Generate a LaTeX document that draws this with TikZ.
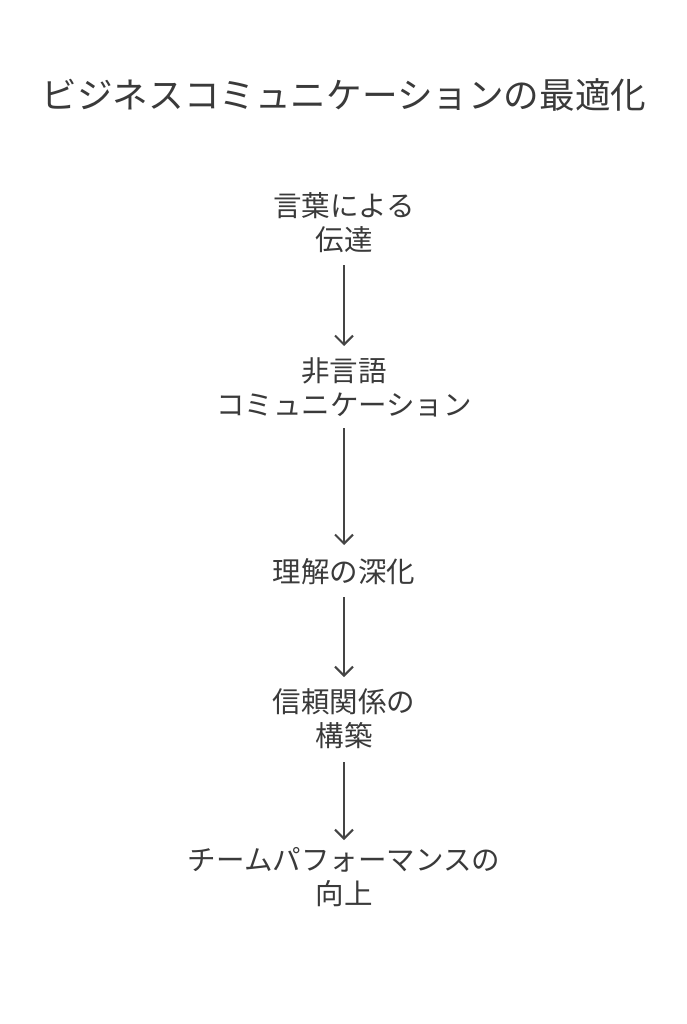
\documentclass[tikz,border=0pt]{standalone}
\usepackage{fontspec}
\setmainfont{Noto Sans CJK JP}
\usetikzlibrary{arrows.meta}
\definecolor{txt}{HTML}{3A3A3A}
\definecolor{arr}{HTML}{444444}
\tikzset{
  lbl/.style={text=txt, font=\fontsize{28.5}{34}\selectfont, align=center, inner sep=0pt},
  ttl/.style={text=txt, font=\fontsize{35.6}{40}\selectfont, inner sep=0pt},
  flow/.style={draw=arr, line width=2pt, -{Straight Barb[length=9pt,width=18pt,line width=2pt]}}
}
\begin{document}
\begin{tikzpicture}[x=1pt,y=-1pt]
\useasboundingbox[fill=white] (0,0) rectangle (687,1024);
\node[ttl] (title) at (344,95) {ビジネスコミュニケーションの最適化};
\node[lbl] (n1) at (344,223) {言葉による\\伝達};
\node[lbl] (n2) at (344,387) {非言語\\コミュニケーション};
\node[lbl] (n3) at (344,572) {理解の深化};
\node[lbl] (n4) at (344,719) {信頼関係の\\構築};
\node[lbl] (n5) at (344,877) {チームパフォーマンスの\\向上};
\coordinate (a1s) at (344,265); \coordinate (a1e) at (344,346);
\coordinate (a2s) at (344,428); \coordinate (a2e) at (344,545);
\coordinate (a3s) at (344,597); \coordinate (a3e) at (344,677);
\coordinate (a4s) at (344,762); \coordinate (a4e) at (344,840);
\draw[flow] (a1s) -- (a1e);
\draw[flow] (a2s) -- (a2e);
\draw[flow] (a3s) -- (a3e);
\draw[flow] (a4s) -- (a4e);
\end{tikzpicture}
\end{document}
